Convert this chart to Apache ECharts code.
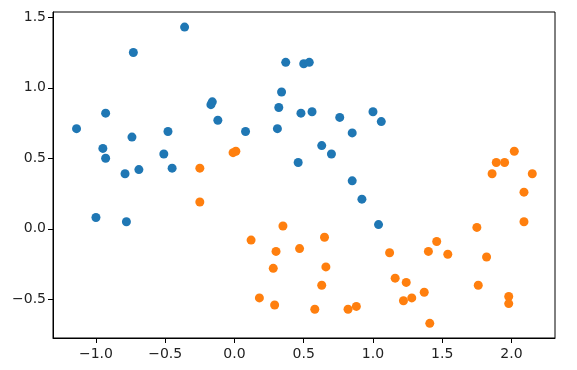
<!DOCTYPE html>
<html>
<head>
<meta charset="utf-8">
<script src="https://cdn.jsdelivr.net/npm/echarts@6/dist/echarts.min.js"></script>
<style>
  html, body { margin: 0; padding: 0; background: #fff; }
  #chart { width: 577px; height: 370px; }
</style>
</head>
<body>
<div id="chart"></div>
<script>
// class 0 (blue) points
const class0 = [
  [-1.14, 0.71], [-0.73, 1.25], [-0.36, 1.43], [-0.93, 0.82], [-0.95, 0.57],
  [-0.93, 0.50], [-0.74, 0.65], [-0.79, 0.39], [-0.69, 0.42], [-0.51, 0.53],
  [-0.48, 0.69], [-0.45, 0.43], [-0.16, 0.90], [-0.17, 0.88], [-0.12, 0.77],
  [0.08, 0.69], [0.31, 0.71], [0.32, 0.86], [0.34, 0.97], [0.37, 1.18],
  [0.50, 1.17], [0.54, 1.18], [0.48, 0.82], [0.56, 0.83], [0.76, 0.79],
  [1.00, 0.83], [1.06, 0.76], [0.85, 0.68], [0.63, 0.59], [0.70, 0.53],
  [0.46, 0.47], [0.85, 0.34], [0.92, 0.21], [1.04, 0.03], [-1.00, 0.08],
  [-0.78, 0.05]
];

// class 1 (orange) points
const class1 = [
  [-0.25, 0.43], [-0.01, 0.54], [0.01, 0.55], [2.02, 0.55], [1.89, 0.47],
  [1.95, 0.47], [1.86, 0.39], [2.15, 0.39], [-0.25, 0.19], [0.12, -0.08],
  [0.35, 0.02], [0.30, -0.16], [0.28, -0.28], [0.18, -0.49], [0.29, -0.54],
  [2.09, 0.26], [2.09, 0.05], [1.75, 0.01], [0.47, -0.14], [0.65, -0.06],
  [0.66, -0.27], [0.63, -0.40], [0.58, -0.57], [0.82, -0.57], [0.88, -0.55],
  [1.12, -0.17], [1.16, -0.35], [1.24, -0.38], [1.22, -0.51], [1.28, -0.49],
  [1.37, -0.45], [1.41, -0.67], [1.40, -0.16], [1.46, -0.09], [1.54, -0.18],
  [1.82, -0.20], [1.76, -0.40], [1.98, -0.48], [1.98, -0.53]
];

const xTicks = [-1.0, -0.5, 0.0, 0.5, 1.0, 1.5, 2.0];
const yTicks = [-0.5, 0.0, 0.5, 1.0, 1.5];

const fmt = (v) => v.toFixed(1).replace('-', '\u2212');

const chart = echarts.init(document.getElementById('chart'));

const axisCommon = {
  type: 'value',
  splitLine: { show: false },
  axisLine: { show: true, onZero: false, lineStyle: { color: '#000', width: 1 } },
  axisTick: { show: true, inside: false, length: 5, lineStyle: { color: '#000', width: 1 } },
};

const option = {
  backgroundColor: '#fff',
  animation: false,
  grid: {
    left: 53,
    right: 22,
    top: 12,
    bottom: 32,
    show: true,
    borderColor: '#000',
    borderWidth: 1,
    containLabel: false,
  },
  xAxis: {
    ...axisCommon,
    min: -1.31,
    max: 2.314,
    axisTick: { ...axisCommon.axisTick, customValues: xTicks },
    axisLabel: {
      customValues: xTicks,
      formatter: fmt,
      color: '#222',
      fontFamily: 'DejaVu Sans',
      fontSize: 14,
      margin: 9,
    },
  },
  yAxis: {
    ...axisCommon,
    min: -0.774,
    max: 1.537,
    axisTick: { ...axisCommon.axisTick, customValues: yTicks },
    axisLabel: {
      customValues: yTicks,
      formatter: fmt,
      color: '#222',
      fontFamily: 'DejaVu Sans',
      fontSize: 14,
      margin: 7,
    },
  },
  series: [
    {
      type: 'scatter',
      data: class0,
      symbolSize: 9,
      itemStyle: { color: '#1f77b4', opacity: 1 },
    },
    {
      type: 'scatter',
      data: class1,
      symbolSize: 9,
      itemStyle: { color: '#ff7f0e', opacity: 1 },
    },
  ],
};

chart.setOption(option);
</script>
</body>
</html>
